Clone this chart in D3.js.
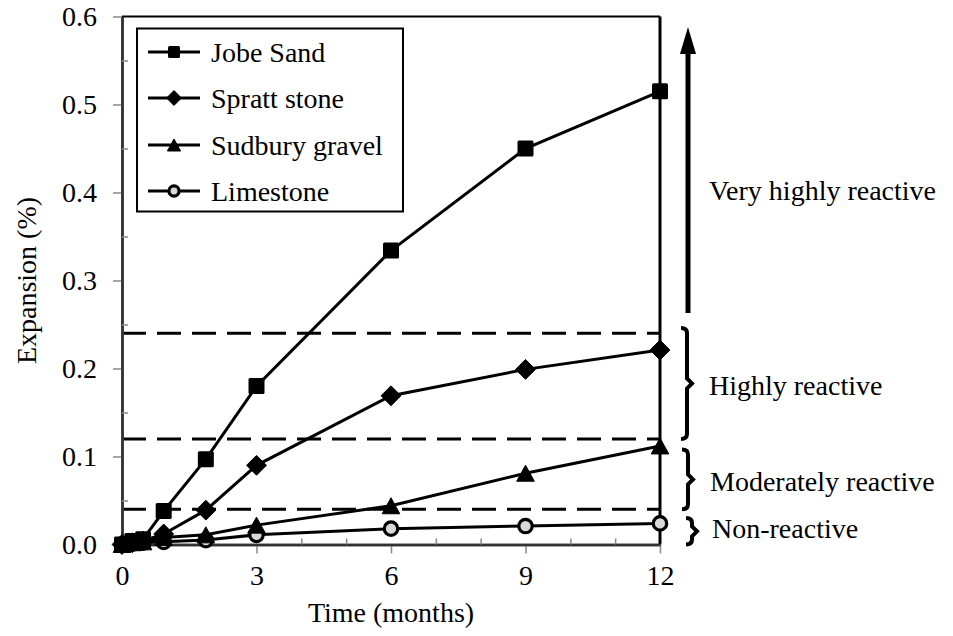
<!DOCTYPE html>
<html>
<head>
<meta charset="utf-8">
<script src="https://cdn.jsdelivr.net/npm/d3@7"></script>
<style>
  html, body { margin: 0; padding: 0; background: #fff; }
  svg { display: block; }
  svg text { font-family: "Liberation Serif", "Times New Roman", serif !important; fill: #000; }
</style>
</head>
<body>
<svg id="chart" width="953" height="636" font-family="Liberation Serif, serif"></svg>
<script>
// ---- data ----
const times = [0, 0.23, 0.47, 0.93, 1.87, 3, 6, 9, 12];
const jobeSand = [0, 0.004, 0.006, 0.038, 0.097, 0.180, 0.334, 0.450, 0.515];
const sprattStone = [0, 0.002, 0.004, 0.012, 0.039, 0.090, 0.169, 0.199, 0.221];
const sudburyGravel = [0, 0.002, 0.003, 0.008, 0.011, 0.022, 0.044, 0.081, 0.112];
const limestone = [0, 0.001, 0.002, 0.003, 0.005, 0.011, 0.018, 0.021, 0.024];
const seriesNames = ["Jobe Sand", "Spratt stone", "Sudbury gravel", "Limestone"];
const seriesMarkers = ["square", "diamond", "triangle", "circle"];
const xTickValues = [0, 3, 6, 9, 12];
const yTickValues = [0, 0.1, 0.2, 0.3, 0.4, 0.5, 0.6];
const limitValues = [0.04, 0.12, 0.24];
const classLabels = ["Non-reactive", "Moderately reactive", "Highly reactive", "Very highly reactive"];
const classBounds = [[0, 0.03], [0.04, 0.108], [0.12, 0.246], [0.263, 0.595]];

const seriesValues = [jobeSand, sprattStone, sudburyGravel, limestone];

const SERIF = '"Liberation Serif", "Times New Roman", serif';
const svg = d3.select("#chart");
const x = d3.scaleLinear().domain([0, 12]).range([122, 660]);
const y = d3.scaleLinear().domain([0, 0.6]).range([544.5, 16.5]);
const FS = 28;

// dashed classification limits
svg.append("g").selectAll("line").data(limitValues).join("line")
  .attr("x1", x(0)).attr("x2", x(12))
  .attr("y1", d => y(d)).attr("y2", d => y(d))
  .attr("stroke", "#000").attr("stroke-width", 3)
  .attr("stroke-dasharray", "24,11");

// frame (top, right)
svg.append("line").attr("x1", x(0)).attr("x2", x(12)).attr("y1", y(0.6)).attr("y2", y(0.6))
  .attr("stroke", "#000").attr("stroke-width", 2);
svg.append("line").attr("x1", x(12)).attr("x2", x(12)).attr("y1", y(0.6)).attr("y2", y(0))
  .attr("stroke", "#000").attr("stroke-width", 3);

// axes
const yAxis = svg.append("g").attr("transform", `translate(${x(0)},0)`)
  .call(d3.axisLeft(y).tickValues(yTickValues).tickFormat(d3.format(".1f")).tickSizeInner(9).tickSizeOuter(0).tickPadding(16));
const yMinor = svg.append("g").attr("transform", `translate(${x(0)},0)`)
  .call(d3.axisLeft(y).tickValues(d3.range(0.05, 0.6, 0.1)).tickFormat("").tickSizeInner(-6).tickSizeOuter(0));
const xAxis = svg.append("g").attr("transform", `translate(0,${y(0)})`)
  .call(d3.axisBottom(x).tickValues(xTickValues).tickSizeInner(9).tickSizeOuter(0).tickPadding(12));
const xMinor = svg.append("g").attr("transform", `translate(0,${y(0)})`)
  .call(d3.axisBottom(x).tickValues(d3.range(1, 12).filter(v => v % 3 !== 0)).tickFormat("").tickSizeInner(-6).tickSizeOuter(0));
[yAxis, yMinor, xAxis, xMinor].forEach(g => {
  g.attr("font-family", SERIF).attr("font-size", FS);
  g.selectAll(".tick line").attr("stroke", "#888").attr("stroke-width", 1.5);
  g.select(".domain").attr("stroke", "#333").attr("stroke-width", 2.5);
  g.selectAll("text").attr("font-family", SERIF).attr("font-size", FS).attr("fill", "#000");
});

// axis titles
svg.append("text").attr("x", x(6)).attr("y", 622).attr("text-anchor", "middle")
  .attr("font-family", SERIF).attr("font-size", FS).text("Time (months)");
svg.append("text").attr("transform", `translate(26,${(y(0) + y(0.6)) / 2}) rotate(-90)`)
  .attr("text-anchor", "middle").attr("dominant-baseline", "central")
  .attr("font-family", SERIF).attr("font-size", FS).text("Expansion (%)");

// marker drawing
function marker(g, type, cx, cy, s) {
  if (type === "square") {
    g.append("rect").attr("x", cx - s / 2).attr("y", cy - s / 2).attr("width", s).attr("height", s)
      .attr("rx", 1.5).attr("fill", "#000");
  } else if (type === "diamond") {
    const h = s * 0.62;
    g.append("path").attr("d", `M${cx},${cy - h}L${cx + h},${cy}L${cx},${cy + h}L${cx - h},${cy}Z`)
      .attr("fill", "#000").attr("stroke", "#000").attr("stroke-width", 1).attr("stroke-linejoin", "round");
  } else if (type === "triangle") {
    const w = s * 0.55, h = s * 0.5;
    g.append("path").attr("d", `M${cx},${cy - h}L${cx + w},${cy + h}L${cx - w},${cy + h}Z`)
      .attr("fill", "#000").attr("stroke", "#000").attr("stroke-width", 1).attr("stroke-linejoin", "round");
  } else {
    g.append("circle").attr("cx", cx).attr("cy", cy).attr("r", s * 0.42)
      .attr("fill", "#d9d9d9").attr("stroke", "#000").attr("stroke-width", 3.2);
  }
}

const line = d3.line().x(d => x(d[0])).y(d => y(d[1]));
for (let i = seriesValues.length - 1; i >= 0; i--) {
  const pts = times.map((t, k) => [t, seriesValues[i][k]]);
  const g = svg.append("g");
  g.append("path").attr("d", line(pts)).attr("fill", "none").attr("stroke", "#000").attr("stroke-width", 3);
  pts.forEach(p => marker(g, seriesMarkers[i], x(p[0]), y(p[1]), 16));
}

// legend
const lg = svg.append("g");
lg.append("rect").attr("x", 137).attr("y", 28.5).attr("width", 266).attr("height", 183)
  .attr("fill", "#fff").attr("stroke", "#000").attr("stroke-width", 2);
const legendY = [52, 98, 145, 191];
seriesNames.forEach((name, i) => {
  const cy = legendY[i];
  lg.append("line").attr("x1", 148).attr("x2", 200).attr("y1", cy).attr("y2", cy)
    .attr("stroke", "#000").attr("stroke-width", 3);
  marker(lg, seriesMarkers[i], 174, cy, 12);
  lg.append("text").attr("x", 211).attr("y", cy).attr("dominant-baseline", "central")
    .attr("font-family", SERIF).attr("font-size", FS).text(name);
});

// right-side classification annotations
const ann = svg.append("g");
const ax = 688;
ann.append("line").attr("x1", ax).attr("x2", ax).attr("y1", y(classBounds[3][0])).attr("y2", y(classBounds[3][1]) + 20)
  .attr("stroke", "#000").attr("stroke-width", 5);
ann.append("path").attr("d", `M${ax},${y(classBounds[3][1]) + 6}L${ax + 8},${y(classBounds[3][1]) + 33}L${ax - 8},${y(classBounds[3][1]) + 33}Z`)
  .attr("fill", "#000");
ann.append("text").attr("x", 709).attr("y", 190).attr("dominant-baseline", "central")
  .attr("font-family", SERIF).attr("font-size", FS).text(classLabels[3]);

function brace(xb, y1, y2) {
  const ym = (y1 + y2) / 2;
  return `M${xb - 6},${y1} Q${xb},${y1} ${xb},${y1 + 5} L${xb},${ym - 5} L${xb + 5},${ym} L${xb},${ym + 5} L${xb},${y2 - 5} Q${xb},${y2} ${xb - 6},${y2}`;
}
const braceX = [692, 688, 687];
const textX = [712, 710, 709];
for (let i = 0; i < 3; i++) {
  const y1 = y(classBounds[i][1]), y2 = y(classBounds[i][0]);
  ann.append("path").attr("d", brace(braceX[i], y1, y2)).attr("fill", "none")
    .attr("stroke", "#000").attr("stroke-width", 4).attr("stroke-linejoin", "miter");
  ann.append("text").attr("x", textX[i]).attr("y", i === 0 ? 528 : (y1 + y2) / 2 + 2).attr("dominant-baseline", "central")
    .attr("font-family", SERIF).attr("font-size", FS).text(classLabels[i]);
}
</script>
</body>
</html>
